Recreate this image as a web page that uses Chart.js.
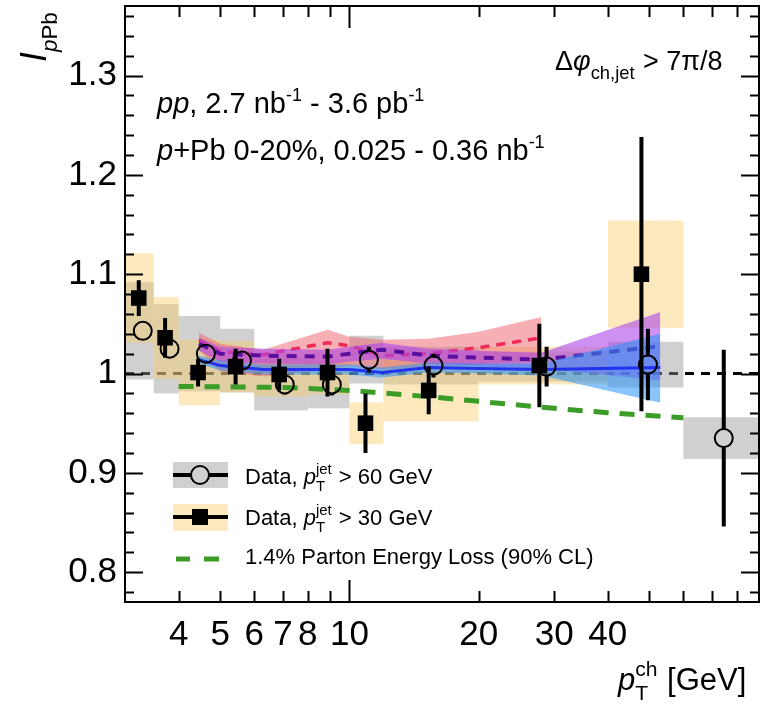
<!DOCTYPE html>
<html>
<head>
<meta charset="utf-8">
<script src="https://cdn.jsdelivr.net/npm/chart.js@4.4.1/dist/chart.umd.min.js"></script>
<style>
  html, body { margin: 0; padding: 0; background: #fff; }
  #wrap { width: 762px; height: 711px; }
</style>
</head>
<body>
<div id="wrap"><canvas id="ipPb" width="762" height="711"></canvas></div>
<script>
// -- Data --
const binEdges = [3, 3.5, 4, 5, 6, 8, 10, 12, 20, 40, 60, 90];

// pT(jet) > 30 GeV, filled squares
const sqX    = [3.23, 3.72, 4.44, 5.43, 6.86, 8.89, 10.9, 15.3, 27.7, 47.9];
const sqY    = [1.076, 1.036, 1.001, 1.007, 0.999, 1.001, 0.950, 0.983, 1.008, 1.100];
const sqStat = [0.018, 0.020, 0.014, 0.018, 0.016, 0.024, 0.030, 0.024, 0.042, 0.138];
const sqSys  = [0.045, 0.041, 0.033, 0.026, 0.022, 0.022, 0.021, 0.031, 0.019, 0.054];

// pT(jet) > 60 GeV, open circles
const ciX    = [3.30, 3.81, 4.63, 5.62, 7.07, 9.10, 11.1, 15.7, 28.8, 49.6, 74.5];
const ciY    = [1.043, 1.025, 1.020, 1.013, 0.989, 0.989, 1.014, 1.008, 1.007, 1.009, 0.935];
const ciStat = [0.007, 0.007, 0.008, 0.009, 0.010, 0.011, 0.013, 0.012, 0.020, 0.036, 0.089];
const ciSys  = [0.049, 0.045, 0.038, 0.032, 0.026, 0.024, 0.024, 0.019, 0.015, 0.023, 0.021];

// theory bands
const redX   = [4.46, 5.0, 6.3, 8.9, 10, 11.9, 15.3, 20, 28];
const redMid = [1.034, 1.022, 1.019, 1.031, 1.028, 1.018, 1.020, 1.026, 1.036];
const redHi  = [1.041, 1.030, 1.024, 1.044, 1.037, 1.034, 1.035, 1.042, 1.057];
const redLo  = [1.024, 1.002, 0.997, 1.004, 1.008, 1.004, 1.006, 1.009, 1.013];

const thX     = [4.46, 5.0, 6.3, 8.9, 10, 11.9, 15.3, 20, 28, 53];
const purMid  = [1.030, 1.020, 1.018, 1.017, 1.020, 1.024, 1.018, 1.016, 1.014, 1.0275];
const purHi   = [1.036, 1.027, 1.025, 1.024, 1.027, 1.031, 1.025, 1.023, 1.021, 1.062];
const purLo   = [1.023, 1.012, 1.010, 1.009, 1.012, 1.015, 1.010, 1.007, 1.005, 0.993];
const blueMid = [1.014, 1.008, 1.004, 1.004, 1.004, 1.001, 1.006, 1.005, 1.004, 1.006];
const blueHi  = [1.018, 1.013, 1.009, 1.009, 1.009, 1.006, 1.011, 1.010, 1.010, 1.040];
const blueLo  = [1.010, 1.003, 0.999, 0.999, 0.999, 0.996, 1.001, 1.000, 0.998, 0.9705];

// 1.4% parton energy loss
const elossX = [4, 7, 10, 15, 20, 30, 40, 60];
const elossY = [0.987, 0.986, 0.983, 0.977, 0.972, 0.965, 0.9605, 0.9555];

const unityX = [3, 90];
const unityY = [1, 1];

const xTickVals  = [4, 5, 6, 7, 8, 9, 10, 20, 30, 40, 50, 60, 70, 80];
const xLabelVals = [4, 5, 6, 7, 8, 10, 20, 30, 40];
const yTickVals  = [0.8, 0.9, 1.0, 1.1, 1.2, 1.3];

// -- Styles --
const FONT = 'Liberation Sans, Arial, Helvetica, sans-serif';
const grayBox = 'rgba(150,150,150,0.45)';
const yellowBox = 'rgba(247,205,100,0.42)';
const CIRCLE_R = 9;

let pts = (xs, ys) => xs.map((x, i) => ({ x: x, y: ys[i] }));

let datasets = [
  { tag: 'unity', data: pts(unityX, unityY), borderColor: '#000', borderWidth: 3, borderDash: [9, 7], pointRadius: 0, fill: false },
  // red band + line
  { data: pts(redX, redHi), borderWidth: 0, pointRadius: 0, fill: '+1', backgroundColor: 'rgba(238,95,105,0.5)' },
  { data: pts(redX, redLo), borderWidth: 0, pointRadius: 0, fill: false },
  { data: pts(redX, redMid), borderColor: '#ee2a55', borderWidth: 3.5, borderDash: [9, 7], pointRadius: 0, fill: false },
  // purple band + line
  { data: pts(thX, purHi), borderWidth: 0, pointRadius: 0, fill: '+1', backgroundColor: 'rgba(175,70,235,0.6)' },
  { data: pts(thX, purLo), borderWidth: 0, pointRadius: 0, fill: false },
  { data: pts(thX, purMid), borderColor: '#5b0fa0', borderWidth: 4, borderDash: [10, 8], pointRadius: 0, fill: false },
  // blue band + line
  { data: pts(thX, blueHi), borderWidth: 0, pointRadius: 0, fill: '+1', backgroundColor: 'rgba(40,150,250,0.55)' },
  { data: pts(thX, blueLo), borderWidth: 0, pointRadius: 0, fill: false },
  { data: pts(thX, blueMid), borderColor: '#2233ee', borderWidth: 3, pointRadius: 0, fill: false },
  // energy loss
  { data: pts(elossX, elossY), borderColor: '#3c9c28', borderWidth: 5, borderDash: [15, 11], pointRadius: 0, fill: false },
  // markers
  { tag: 'circles', data: pts(ciX, ciY), showLine: false, pointStyle: 'circle', pointRadius: CIRCLE_R,
    pointBorderWidth: 2, pointBorderColor: '#000', pointBackgroundColor: 'rgba(0,0,0,0)' },
  { tag: 'squares', data: pts(sqX, sqY), showLine: false, pointStyle: 'rect', pointRadius: 11,
    pointBorderWidth: 0, pointBackgroundColor: '#000', pointBorderColor: '#000' },
];
datasets.forEach((d, i) => { d.order = datasets.length - i; d.tension = 0; });

// -- Helpers --
let drawRuns = function(ctx, x, y, runs, size) {
  let cx = x;
  for (let r of runs) {
    if (r.sup !== undefined || r.sub !== undefined) {
      let ss = size * 0.68;
      ctx.font = `${ss}px ${FONT}`;
      let w = 0;
      if (r.sup) { ctx.fillText(r.sup, cx, y - size * 0.45); w = ctx.measureText(r.sup).width; }
      if (r.sub) { ctx.fillText(r.sub, cx, y + size * 0.32); w = Math.max(w, ctx.measureText(r.sub).width); }
      cx += w + 1;
    } else {
      let s = r.s ? size * r.s : size;
      let dy = r.dy ? r.dy * size : 0;
      ctx.font = `${r.it ? 'italic ' : ''}${s}px ${FONT}`;
      ctx.fillText(r.t, cx, y + dy);
      cx += ctx.measureText(r.t).width;
    }
  }
  return cx - x;
}

let drawBoxes = function(chart) {
  const { ctx, scales: { x, y }, chartArea: a } = chart;
  ctx.save();
  ctx.beginPath(); ctx.rect(a.left, a.top, a.right - a.left, a.bottom - a.top); ctx.clip();
  let box = (lo, hi, v, e, col) => {
    let x0 = x.getPixelForValue(lo), x1 = x.getPixelForValue(hi);
    let y0 = y.getPixelForValue(v + e), y1 = y.getPixelForValue(v - e);
    ctx.fillStyle = col;
    ctx.fillRect(x0, y0, x1 - x0, y1 - y0);
  }
  ciY.forEach((v, i) => box(binEdges[i], binEdges[i + 1], v, ciSys[i], grayBox));
  sqY.forEach((v, i) => box(binEdges[i], binEdges[i + 1], v, sqSys[i], yellowBox));
  ctx.restore();
}

let drawErrors = function(chart) {
  const { ctx, scales: { x, y } } = chart;
  ctx.save();
  ctx.strokeStyle = '#000';
  ctx.lineWidth = 4;
  let bars = (xs, ys, es, gap) => {
    xs.forEach((xv, i) => {
      let px = x.getPixelForValue(xv);
      let cy = y.getPixelForValue(ys[i]);
      let top = y.getPixelForValue(ys[i] + es[i]);
      let bot = y.getPixelForValue(ys[i] - es[i]);
      ctx.beginPath();
      if (cy - top > gap) { ctx.moveTo(px, cy - gap); ctx.lineTo(px, top); }
      if (bot - cy > gap) { ctx.moveTo(px, cy + gap); ctx.lineTo(px, bot); }
      ctx.stroke();
    });
  }
  bars(ciX, ciY, ciStat, CIRCLE_R);
  bars(sqX, sqY, sqStat, 0);
  ctx.restore();
}

let drawFrame = function(chart) {
  const { ctx, scales: { x, y }, chartArea: a } = chart;
  ctx.save();
  ctx.strokeStyle = '#000';
  ctx.lineWidth = 2;
  ctx.strokeRect(a.left, a.top, a.right - a.left, a.bottom - a.top);
  ctx.beginPath();
  for (let v = 0.78; v < 1.37; v += 0.02) {
    let vv = Math.round(v * 100) / 100;
    let major = yTickVals.some(t => Math.abs(t - vv) < 1e-6);
    let len = major ? 18 : 9;
    let py = Math.round(y.getPixelForValue(vv)) + 0.5;
    ctx.moveTo(a.left, py); ctx.lineTo(a.left + len, py);
    ctx.moveTo(a.right, py); ctx.lineTo(a.right - len, py);
  }
  for (let v of xTickVals) {
    let len = v === 10 ? 22 : 11;
    let px = Math.round(x.getPixelForValue(v)) + 0.5;
    ctx.moveTo(px, a.bottom); ctx.lineTo(px, a.bottom - len);
    ctx.moveTo(px, a.top); ctx.lineTo(px, a.top + len);
  }
  ctx.stroke();
  ctx.restore();
}

let drawTexts = function(chart) {
  const ctx = chart.ctx;
  ctx.save();
  ctx.fillStyle = '#000';
  ctx.textBaseline = 'alphabetic';
  ctx.textAlign = 'left';

  // axis titles
  ctx.save();
  ctx.translate(46, 62);
  ctx.rotate(-Math.PI / 2);
  drawRuns(ctx, 0, 0, [{ t: 'I', it: true }, { t: 'p', it: true, s: 0.62, dy: 0.3 }, { t: 'Pb', s: 0.62, dy: 0.3 }], 36);
  ctx.restore();
  drawRuns(ctx, 618, 690, [{ t: 'p', it: true }, { sup: 'ch', sub: 'T' }, { t: ' [GeV]' }], 31);

  // labels
  drawRuns(ctx, 157, 113, [{ t: 'pp', it: true }, { t: ', 2.7 nb' }, { t: '-1', s: 0.62, dy: -0.42 },
    { t: ' - 3.6 pb' }, { t: '-1', s: 0.62, dy: -0.42 }], 29);
  drawRuns(ctx, 157, 160, [{ t: 'p', it: true }, { t: '+Pb 0-20%, 0.025 - 0.36 nb' }, { t: '-1', s: 0.62, dy: -0.42 }], 29);
  drawRuns(ctx, 555, 70, [{ t: '\u0394' }, { t: '\u03c6', it: true }, { sub: 'ch,jet' }, { t: ' > 7\u03c0/8' }], 27);

  // legend
  ctx.fillStyle = grayBox; ctx.fillRect(173, 462, 55, 26);
  ctx.fillStyle = yellowBox; ctx.fillRect(173, 504, 55, 27);
  ctx.strokeStyle = '#000'; ctx.lineWidth = 4;
  ctx.beginPath();
  ctx.moveTo(173, 475); ctx.lineTo(200 - CIRCLE_R, 475);
  ctx.moveTo(200 + CIRCLE_R, 475); ctx.lineTo(228, 475);
  ctx.moveTo(173, 517); ctx.lineTo(228, 517);
  ctx.stroke();
  ctx.lineWidth = 2;
  ctx.beginPath(); ctx.arc(200, 475, CIRCLE_R, 0, Math.PI * 2); ctx.stroke();
  ctx.fillStyle = '#000'; ctx.fillRect(192, 509, 16, 16);
  ctx.strokeStyle = '#3c9c28'; ctx.lineWidth = 5;
  ctx.beginPath(); ctx.moveTo(176, 559); ctx.lineTo(190, 559); ctx.moveTo(204, 559); ctx.lineTo(219, 559); ctx.stroke();
  ctx.fillStyle = '#000';
  drawRuns(ctx, 245, 484, [{ t: 'Data, ' }, { t: 'p', it: true }, { sup: 'jet', sub: 'T' }, { t: ' > 60 GeV' }], 22);
  drawRuns(ctx, 245, 525, [{ t: 'Data, ' }, { t: 'p', it: true }, { sup: 'jet', sub: 'T' }, { t: ' > 30 GeV' }], 22);
  drawRuns(ctx, 245, 564, [{ t: '1.4% Parton Energy Loss (90% CL)' }], 22);
  ctx.restore();
}

const ipPbPlugin = {
  id: 'ipPbExtras',
  afterDatasetDraw(chart, args) {
    let tag = chart.data.datasets[args.index].tag;
    if (tag === 'unity') drawBoxes(chart);
  },
  beforeDatasetDraw(chart, args) {
    let tag = chart.data.datasets[args.index].tag;
    if (tag === 'circles') drawErrors(chart);
  },
  afterDraw(chart) {
    drawFrame(chart);
    drawTexts(chart);
  }
}

let noPad = function(s) {
  s.paddingTop = 0; s.paddingBottom = 0; s.paddingLeft = 0; s.paddingRight = 0;
}

// -- Chart --
let chart = new Chart(document.getElementById('ipPb'), {
  type: 'line',
  data: { datasets: datasets },
  plugins: [ipPbPlugin],
  options: {
    responsive: false,
    animation: false,
    devicePixelRatio: 1,
    layout: { autoPadding: false, padding: { top: 6, right: 3, left: 0, bottom: 0 } },
    plugins: { legend: { display: false }, tooltip: { enabled: false } },
    scales: {
      x: {
        type: 'logarithmic', min: 3, max: 90,
        grid: { display: false, drawTicks: false },
        border: { display: false },
        afterBuildTicks: s => { s.ticks = xTickVals.map(v => ({ value: v })); },
        afterFit: s => { s.height = 109; noPad(s); },
        ticks: {
          autoSkip: false, maxRotation: 0, minRotation: 0, padding: 12, color: '#000',
          font: { family: FONT, size: 35 },
          callback: v => xLabelVals.includes(v) ? String(v) : ''
        }
      },
      y: {
        type: 'linear', min: 0.77, max: 1.37,
        grid: { display: false, drawTicks: false },
        border: { display: false },
        afterBuildTicks: s => { s.ticks = yTickVals.map(v => ({ value: v })); },
        afterFit: s => { s.width = 125; noPad(s); },
        ticks: {
          padding: 8, color: '#000',
          font: { family: FONT, size: 35 },
          callback: v => Math.abs(v - 1) < 1e-9 ? '1' : v.toFixed(1)
        }
      }
    }
  }
});
</script>
</body>
</html>
